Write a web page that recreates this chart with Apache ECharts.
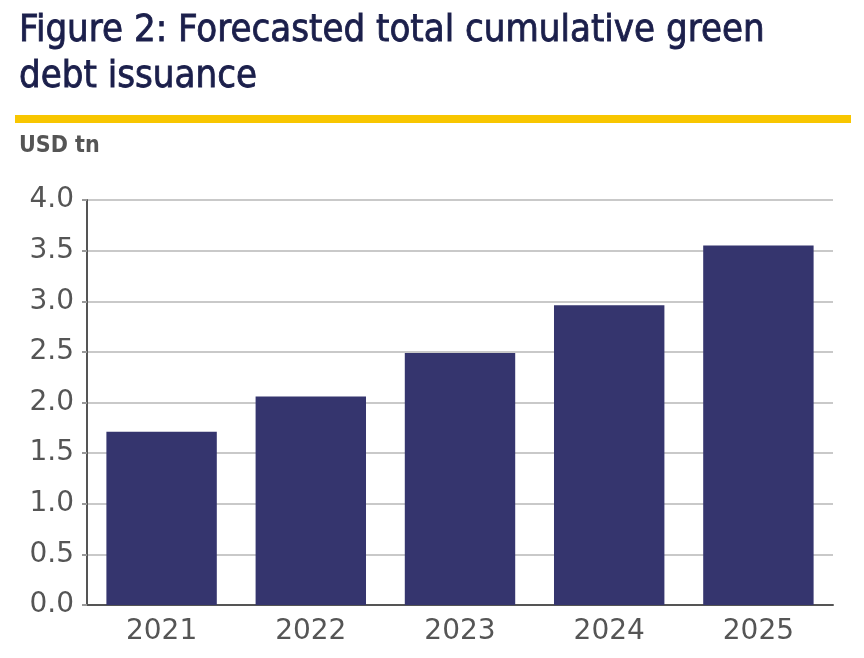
<!DOCTYPE html>
<html>
<head>
<meta charset="utf-8">
<script src="https://cdn.jsdelivr.net/npm/echarts@6/dist/echarts.min.js"></script>
<style>
    html, body {margin: 0; padding: 0; background: #ffffff;}
    #chart {width: 864px; height: 658px;}
</style>
</head>
<body>
<div id="chart"></div>
<script>
const years = ['2021', '2022', '2023', '2024', '2025']
const issuance = [1.71, 2.06, 2.49, 2.96, 3.55]
const yTicks = [0, 0.5, 1.0, 1.5, 2.0, 2.5, 3.0, 3.5, 4.0]

const narrowFont = '"DejaVu Sans Condensed", "Liberation Sans Narrow", sans-serif'
const labelFont = '"DejaVu Sans", "Liberation Sans", sans-serif'

const chart = echarts.init(document.getElementById('chart'))

const option = {
    backgroundColor: '#ffffff',
    title: [
        {
            left: 14,
            top: 3,
            text: 'Figure 2: Forecasted total cumulative green\ndebt issuance',
            textStyle: {
                fontFamily: narrowFont,
                fontSize: 38,
                fontWeight: 'normal',
                color: '#1b1f4b',
                // 加一点描边，接近原图的中等字重
                textBorderColor: '#1b1f4b',
                textBorderWidth: 0.8,
                lineHeight: 46
            }
        },
        {
            left: 14,
            top: 130,
            text: 'USD tn',
            textStyle: {
                fontFamily: narrowFont,
                fontSize: 23,
                fontWeight: 'bold',
                color: '#555555'
            }
        }
    ],
    // 标题下的黄色分隔线
    graphic: [{
        type: 'rect',
        shape: {x: 15, y: 115, width: 836, height: 8},
        style: {fill: '#f8c600'}
    }],
    grid: {
        left: 87,
        right: 31,
        top: 200,
        bottom: 53
    },
    xAxis: {
        type: 'category',
        data: years,
        axisLine: {lineStyle: {color: '#555555', width: 2}},
        axisTick: {show: false},
        axisLabel: {
            margin: 13,
            fontFamily: labelFont,
            fontSize: 28,
            color: '#555555'
        }
    },
    yAxis: {
        type: 'value',
        min: 0,
        max: 4,
        interval: 0.5,
        axisLine: {show: true, lineStyle: {color: '#555555', width: 2}},
        axisTick: {show: true, length: 5, lineStyle: {color: '#999999', width: 2}},
        splitLine: {lineStyle: {color: '#c9c9c9', width: 2}},
        axisLabel: {
            margin: 13,
            fontFamily: labelFont,
            fontSize: 28,
            color: '#555555',
            formatter: function (value) {
                return yTicks.indexOf(value) >= 0 ? value.toFixed(1) : ''
            }
        }
    },
    series: [{
        type: 'bar',
        data: issuance,
        barCategoryGap: '26%',
        itemStyle: {color: '#35356e'}
    }]
}

chart.setOption(option)
</script>
</body>
</html>
